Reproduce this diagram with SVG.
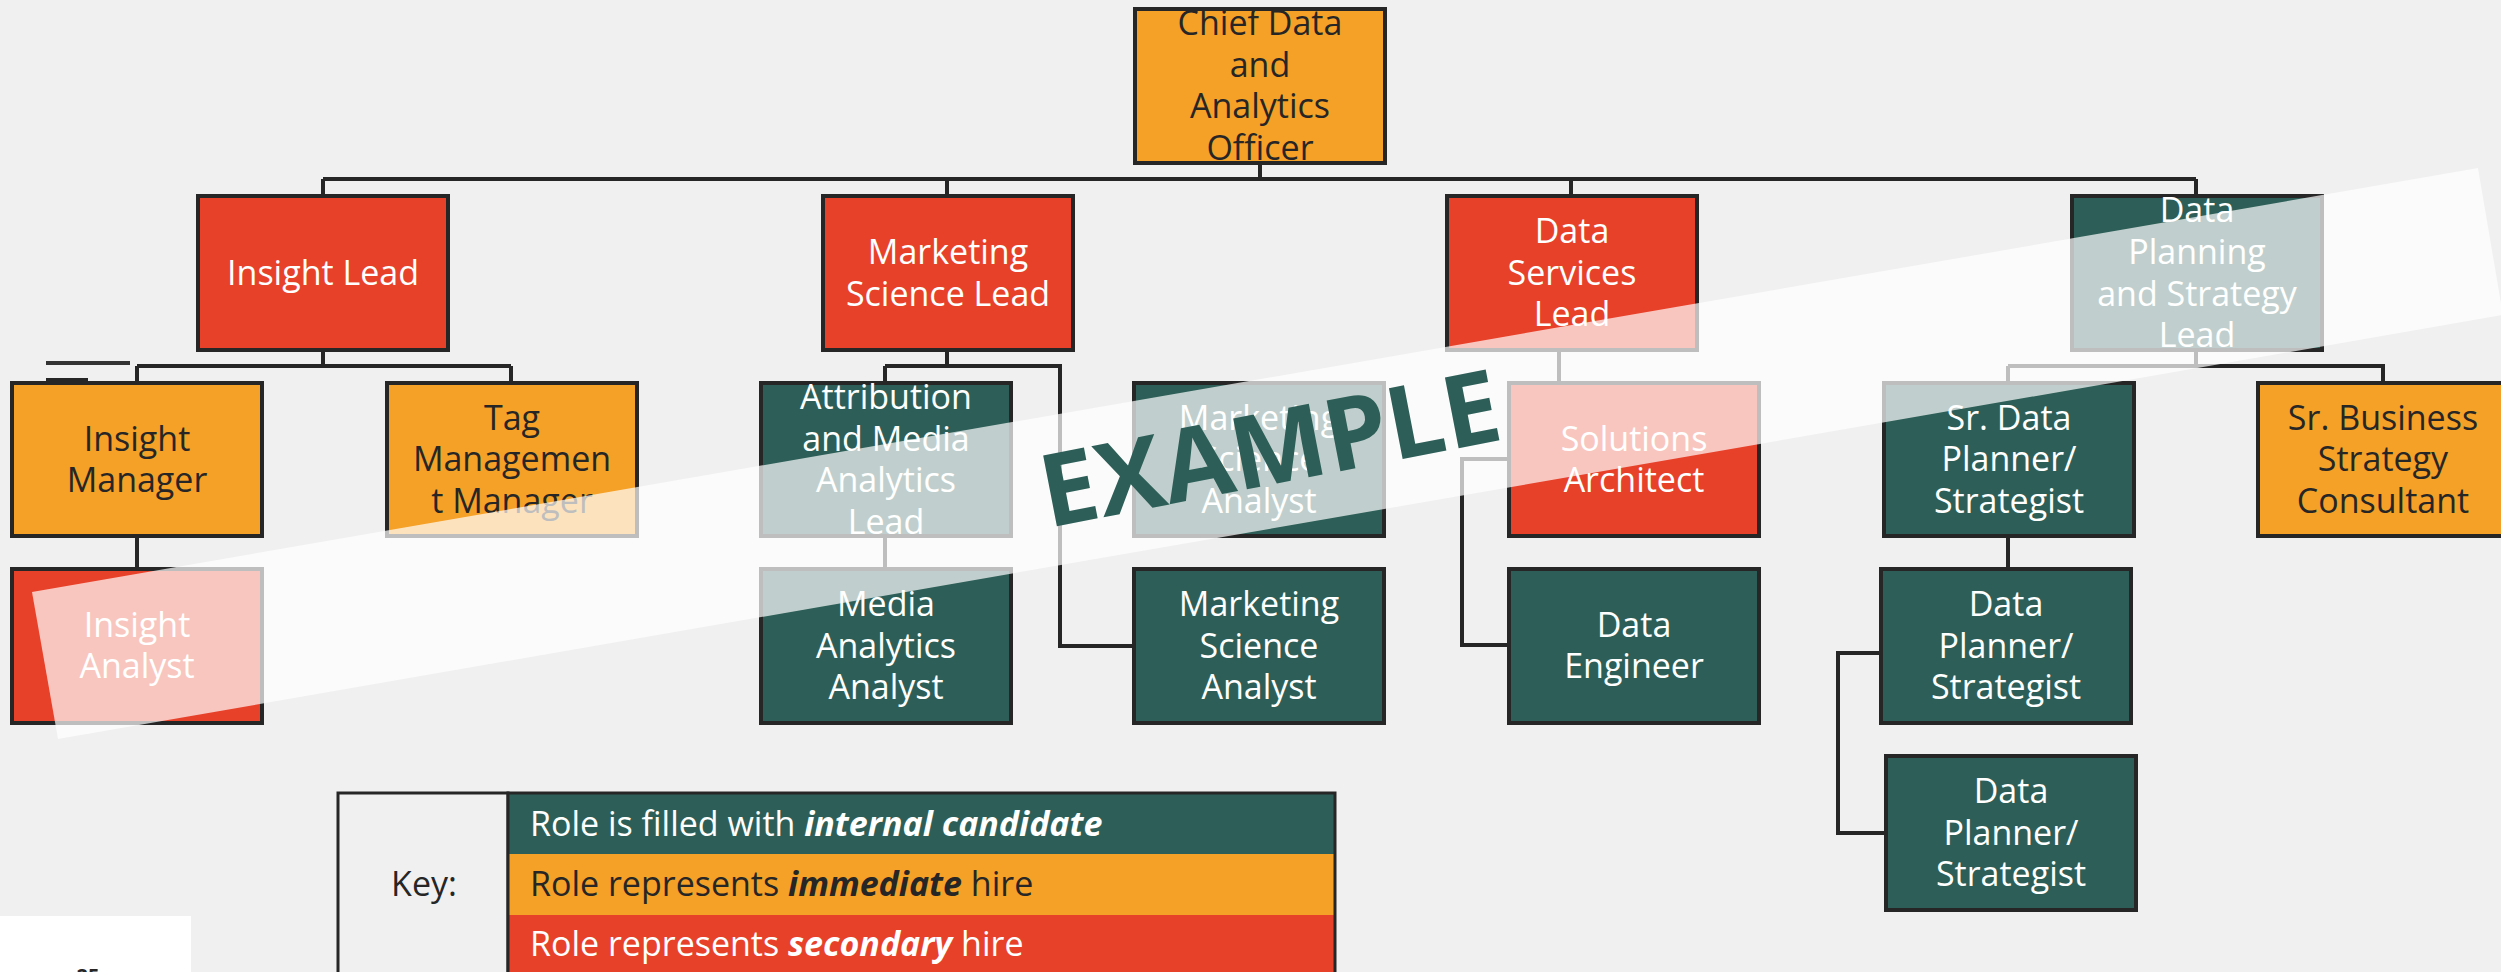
<svg xmlns="http://www.w3.org/2000/svg" width="2501" height="972" viewBox="0 0 2501 972">
<style>
.bx{stroke:#262626;stroke-width:4}
.o{fill:#F5A026}.r{fill:#E8412A}.g{fill:#2D5F58}
.t{font-family:"Open Sans","Noto Sans","Liberation Sans",sans-serif;font-size:34px;text-anchor:middle}
.w{fill:#FFFFFF}.d{fill:#262626}
.c{fill:none;stroke:#262626;stroke-width:4}
.k{font-family:"Open Sans","Noto Sans","Liberation Sans",sans-serif;font-size:34px}
</style>
<rect width="2501" height="972" fill="#F0F0F0"/>
<g id="connectors">
<path class="c" d="M1260 163V179M323 179H2196M323 179V196M947 179V196M1571 179V196M2196 179V196"/>
<path class="c" d="M323 350V366M137 366H511M137 366V383M511 366V383"/>
<path class="c" d="M947 350V366M885 366H1060V646H1134M885 366V383"/>
<path class="c" d="M1559 350V383M1509 459H1462V645H1509"/>
<path class="c" d="M2196 350V366M2008 366H2383V383M2008 366V383"/>
<path class="c" d="M137 536V569M885 536V569M2008 536V569M1881 653H1838V833H1886"/>
<path d="M46 363H130" stroke="#333" stroke-width="4"/>
<path d="M46 381H88" stroke="#262626" stroke-width="6"/>
</g>
<g id="chief"><rect class="bx o" x="1135" y="9" width="250" height="154"/><text class="t d"><tspan x="1260" y="35">Chief Data</tspan><tspan x="1260" y="77">and</tspan><tspan x="1260" y="118">Analytics</tspan><tspan x="1260" y="160">Officer</tspan></text></g>
<g id="insight-lead"><rect class="bx r" x="198" y="196" width="250" height="154"/><text class="t w"><tspan x="323" y="285">Insight Lead</tspan></text></g>
<g id="marketing-science-lead"><rect class="bx r" x="823" y="196" width="250" height="154"/><text class="t w"><tspan x="948" y="264">Marketing</tspan><tspan x="948" y="306">Science Lead</tspan></text></g>
<g id="data-services-lead"><rect class="bx r" x="1447" y="196" width="250" height="154"/><text class="t w"><tspan x="1572" y="243">Data</tspan><tspan x="1572" y="285">Services</tspan><tspan x="1572" y="326">Lead</tspan></text></g>
<g id="data-planning-lead"><rect class="bx g" x="2072" y="196" width="250" height="154"/><text class="t w"><tspan x="2197" y="222">Data</tspan><tspan x="2197" y="264">Planning</tspan><tspan x="2197" y="306">and Strategy</tspan><tspan x="2197" y="347">Lead</tspan></text></g>
<g id="insight-manager"><rect class="bx o" x="12" y="383" width="250" height="153"/><text class="t d"><tspan x="137" y="451">Insight</tspan><tspan x="137" y="492">Manager</tspan></text></g>
<g id="tag-manager"><rect class="bx o" x="387" y="383" width="250" height="153"/><text class="t d"><tspan x="512" y="430">Tag</tspan><tspan x="512" y="471">Managemen</tspan><tspan x="512" y="513">t Manager</tspan></text></g>
<g id="attribution-lead"><rect class="bx g" x="761" y="383" width="250" height="153"/><text class="t w"><tspan x="886" y="409">Attribution</tspan><tspan x="886" y="451">and Media</tspan><tspan x="886" y="492">Analytics</tspan><tspan x="886" y="534">Lead</tspan></text></g>
<g id="ms-analyst-1"><rect class="bx g" x="1134" y="383" width="250" height="153"/><text class="t w"><tspan x="1259" y="430">Marketing</tspan><tspan x="1259" y="471">Science</tspan><tspan x="1259" y="513">Analyst</tspan></text></g>
<g id="solutions-architect"><rect class="bx r" x="1509" y="383" width="250" height="153"/><text class="t w"><tspan x="1634" y="451">Solutions</tspan><tspan x="1634" y="492">Architect</tspan></text></g>
<g id="sr-data-planner"><rect class="bx g" x="1884" y="383" width="250" height="153"/><text class="t w"><tspan x="2009" y="430">Sr. Data</tspan><tspan x="2009" y="471">Planner/</tspan><tspan x="2009" y="513">Strategist</tspan></text></g>
<g id="sr-business"><rect class="bx o" x="2258" y="383" width="250" height="153"/><text class="t d"><tspan x="2383" y="430">Sr. Business</tspan><tspan x="2383" y="471">Strategy</tspan><tspan x="2383" y="513">Consultant</tspan></text></g>
<g id="insight-analyst"><rect class="bx r" x="12" y="569" width="250" height="154"/><text class="t w"><tspan x="137" y="637">Insight</tspan><tspan x="137" y="678">Analyst</tspan></text></g>
<g id="media-analyst"><rect class="bx g" x="761" y="569" width="250" height="154"/><text class="t w"><tspan x="886" y="616">Media</tspan><tspan x="886" y="658">Analytics</tspan><tspan x="886" y="699">Analyst</tspan></text></g>
<g id="ms-analyst-2"><rect class="bx g" x="1134" y="569" width="250" height="154"/><text class="t w"><tspan x="1259" y="616">Marketing</tspan><tspan x="1259" y="658">Science</tspan><tspan x="1259" y="699">Analyst</tspan></text></g>
<g id="data-engineer"><rect class="bx g" x="1509" y="569" width="250" height="154"/><text class="t w"><tspan x="1634" y="637">Data</tspan><tspan x="1634" y="678">Engineer</tspan></text></g>
<g id="data-planner-1"><rect class="bx g" x="1881" y="569" width="250" height="154"/><text class="t w"><tspan x="2006" y="616">Data</tspan><tspan x="2006" y="658">Planner/</tspan><tspan x="2006" y="699">Strategist</tspan></text></g>
<g id="data-planner-2"><rect class="bx g" x="1886" y="756" width="250" height="154"/><text class="t w"><tspan x="2011" y="803">Data</tspan><tspan x="2011" y="845">Planner/</tspan><tspan x="2011" y="886">Strategist</tspan></text></g>
<g id="watermark">
<polygon points="32,592 2478,168 2503,315 58,739" fill="#FFFFFF" fill-opacity="0.7"/>
<text x="1048" y="528" transform="rotate(-11 1048 528)" font-family="'Open Sans','Noto Sans','Liberation Sans',sans-serif" font-size="101" font-weight="bold" fill="#2D5F58">EXAMPLE</text>
</g>
<g id="key">
<rect x="338" y="793" width="170" height="185" fill="#F0F0F0" stroke="#262626" stroke-width="3"/>
<rect x="508" y="793" width="827" height="61" class="g"/>
<rect x="508" y="854" width="827" height="61" class="o"/>
<rect x="508" y="915" width="827" height="62" class="r"/>
<rect x="508" y="793" width="827" height="185" fill="none" stroke="#262626" stroke-width="3"/>
<text x="424" y="896" class="k d" text-anchor="middle">Key:</text>
<text x="530" y="836" class="k w">Role is filled with <tspan font-weight="bold" font-style="italic">internal candidate</tspan></text>
<text x="530" y="896" class="k d">Role represents <tspan font-weight="bold" font-style="italic">immediate</tspan> hire</text>
<text x="530" y="956" class="k w">Role represents <tspan font-weight="bold" font-style="italic">secondary</tspan> hire</text>
</g>
<g id="page-number">
<rect x="0" y="916" width="191" height="56" fill="#FFFFFF"/>
<text x="88" y="983" font-family="'Open Sans','Noto Sans',sans-serif" font-size="20" font-weight="bold" fill="#262626" text-anchor="middle">25</text>
</g>
</svg>
